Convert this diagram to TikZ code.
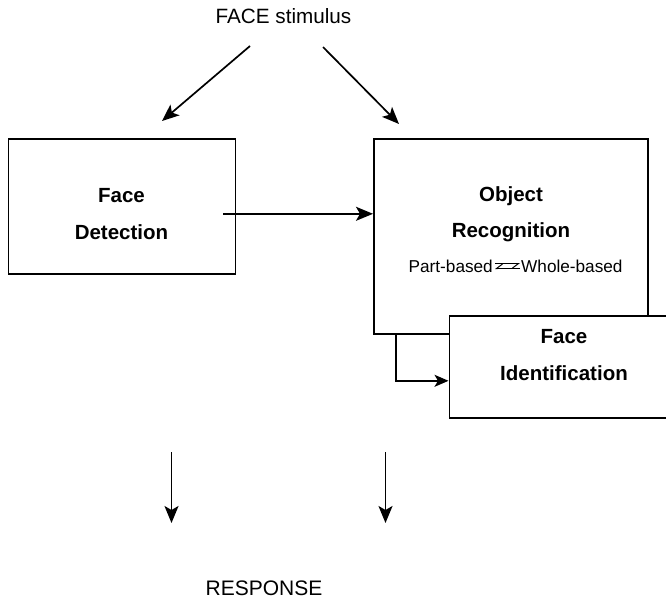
\documentclass[tikz,border=0pt]{standalone}
\usepackage{fontspec}
\setmainfont{Liberation Sans}
\usetikzlibrary{arrows.meta,calc}
\begin{document}
\begin{tikzpicture}[x=1pt,y=-1pt,
  box/.style={draw=black,line width=1.6pt,fill=white,inner sep=0pt,anchor=north west},
  bold/.style={font=\fontsize{20.5}{24}\selectfont\bfseries,inner sep=0pt},
  plain/.style={font=\fontsize{20.7}{24}\selectfont,inner sep=0pt},
  small/.style={font=\fontsize{17.2}{20}\selectfont,inner sep=0pt},
  arr/.style={line width=1.7pt,-{Stealth[length=17pt,width=14pt,inset=4pt]}},
  sarr/.style={line width=1.5pt,-{Stealth[length=14pt,width=12pt,inset=3.5pt]}},
  harr/.style={line width=1pt,-{Straight Barb[harpoon,swap,length=6pt,width=9pt]}}]
\useasboundingbox (0,0) rectangle (666,600);

% stimulus
\node[plain] (stim) at (283.5,16.5) {FACE stimulus};
\coordinate (s1) at (250,46);
\coordinate (e1) at (162,121);
\coordinate (s2) at (323,47);
\coordinate (e2) at (399,124);
\draw[arr] (s1) -- (e1);
\draw[arr] (s2) -- (e2);

% Face Detection box
\node[box,minimum width=227pt,minimum height=135pt] (FD) at (7.5,138) {};
\node[bold] (fd1) at (121.5,196) {Face};
\node[bold] (fd2) at (121.5,232) {Detection};

% Object Recognition box
\node[box,minimum width=274pt,minimum height=195pt] (OR) at (373,138) {};
\node[bold] (or1) at (511,196) {Object};
\node[bold] (or2) at (511,232) {Recognition};
\node[small,anchor=east] (part) at (493,266) {Part-based};
\node[small,anchor=west] (whole) at (521,266) {Whole-based};
\draw[harr] ([shift={(-1pt,-2.5pt)}]whole.west) -- ([shift={(2pt,-2.5pt)}]part.east);
\draw[harr] ([shift={(2pt,2.5pt)}]part.east) -- ([shift={(-1pt,2.5pt)}]whole.west);

% Face Identification box
\node[box,minimum width=217pt,minimum height=102pt] (FI) at (448.5,315) {};
\node[bold] (fi1) at (564,337) {Face};
\node[bold] (fi2) at (564,373) {Identification};

% connectors
\draw[arr] ([shift={(-13pt,-7.5pt)}]FD.east) -- ([yshift=-7.5pt]FD.east -| OR.west);
\draw[sarr] ([xshift=23pt]OR.south west) |- ([yshift=-14pt]FI.west);

% response
\coordinate (d1s) at (171.5,452);
\coordinate (d1e) at (171.5,523);
\coordinate (d2s) at (385.5,452);
\coordinate (d2e) at (385.5,523);
\draw[arr] (d1s) -- (d1e);
\draw[arr] (d2s) -- (d2e);
\node[plain,font=\fontsize{21}{24}\selectfont] (resp) at (264,588) {RESPONSE};
\end{tikzpicture}
\end{document}
